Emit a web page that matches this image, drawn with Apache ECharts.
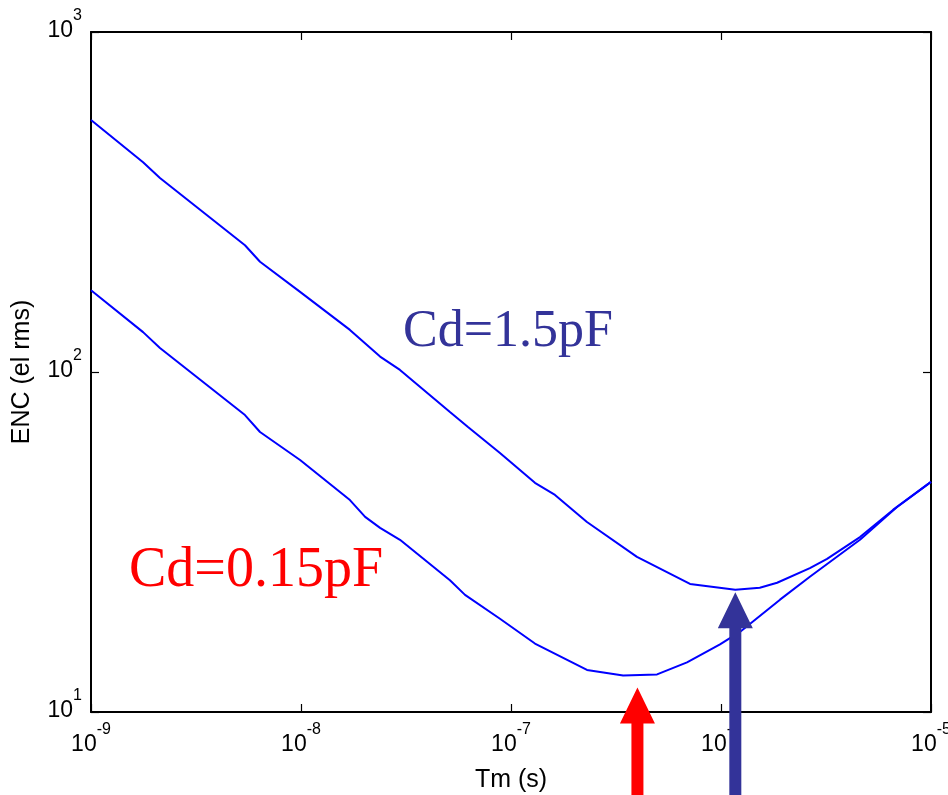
<!DOCTYPE html>
<html>
<head>
<meta charset="utf-8">
<script src="https://cdn.jsdelivr.net/npm/echarts@6/dist/echarts.min.js"></script>
<style>
  html, body { margin: 0; padding: 0; background: #fff; overflow: hidden; }
  #chart { width: 948px; height: 795px; }
</style>
</head>
<body>
<div id="chart"></div>
<script>
// Cd = 1.5pF curve
const tmUpper = [1e-9, 1.77e-9, 2.13e-9, 5.41e-9, 6.38e-9, 9.9e-9, 1.71e-8, 2.38e-8, 2.96e-8, 5.12e-8, 6.24e-8, 8.86e-8,
  1.30e-7, 1.62e-7, 2.30e-7, 3.98e-7, 7.12e-7, 1.17e-6, 1.53e-6, 1.85e-6, 2.65e-6, 3.20e-6, 4.59e-6, 6.59e-6, 1e-5];
const encUpper = [551, 414, 372, 236, 211, 172, 133, 111, 101.4, 76.3, 68.9, 57.8,
  47.2, 43.5, 36.2, 28.6, 23.8, 22.9, 23.2, 24.0, 26.5, 28.2, 32.7, 39.3, 47.5];
// Cd = 0.15pF curve
const tmLower = [1e-9, 1.77e-9, 2.13e-9, 5.41e-9, 6.38e-9, 9.9e-9, 1.71e-8, 2.02e-8, 2.38e-8, 2.96e-8, 5.12e-8, 6.04e-8,
  8.86e-8, 1.30e-7, 2.30e-7, 3.42e-7, 4.96e-7, 6.89e-7, 9.89e-7, 1.23e-6, 1.91e-6, 2.65e-6, 4.59e-6, 6.89e-6, 1e-5];
const encLower = [174, 131, 117.7, 74.7, 66.6, 55.1, 42.0, 37.5, 34.8, 32.1, 24.4, 22.1,
  18.8, 15.9, 13.3, 12.8, 12.9, 14.0, 15.8, 17.2, 21.4, 25.0, 32.1, 40.1, 47.5];
// arrows pointing at the minima: [Tm, tip ENC]
const arrowRed = [4.0e-7, 11.8];
const arrowBlue = [1.17e-6, 22.5];

const navy = '#333399';
const labelRich = {
    b: { fontFamily: 'Liberation Sans', fontSize: 23, color: '#000', padding: [11, 0, 0, 0], verticalAlign: 'bottom' },
    s: { fontFamily: 'Liberation Sans', fontSize: 16, color: '#000', verticalAlign: 'top' }
};
function powLabel(v) {
    const e = Math.round(Math.log10(v));
    return '{b|10}{s|' + e + '}';
}

const chart = echarts.init(document.getElementById('chart'));
const zip = (xs, ys) => xs.map((x, i) => [x, ys[i]]);

const axisLine = { show: true, lineStyle: { color: '#000', width: 2 } };
const axisTick = { show: true, inside: true, length: 8, lineStyle: { color: '#000', width: 1.2 } };

chart.setOption({
    animation: false,
    backgroundColor: '#fff',
    grid: { left: 91, right: 17, top: 32, bottom: 83, outerBoundsMode: 'none', containLabel: false },
    xAxis: [
        {
            type: 'log', logBase: 10, min: 1e-9, max: 1e-5, splitNumber: 4,
            position: 'bottom',
            name: 'Tm (s)', nameLocation: 'middle', nameGap: 56,
            nameTextStyle: { fontFamily: 'Liberation Sans', fontSize: 25, color: '#000' },
            axisLine, axisTick,
            splitLine: { show: false }, minorTick: { show: false },
            axisLabel: { formatter: powLabel, rich: labelRich, margin: 10 }
        },
        {
            type: 'log', logBase: 10, min: 1e-9, max: 1e-5, splitNumber: 4,
            position: 'top',
            axisLine, axisTick,
            splitLine: { show: false }, axisLabel: { show: false }
        }
    ],
    yAxis: [
        {
            type: 'log', logBase: 10, min: 10, max: 1000, splitNumber: 2,
            position: 'left',
            name: 'ENC (el rms)', nameLocation: 'middle', nameGap: 56, nameRotate: 90,
            nameTextStyle: { fontFamily: 'Liberation Sans', fontSize: 25, color: '#000' },
            axisLine, axisTick,
            splitLine: { show: false }, minorTick: { show: false },
            axisLabel: { formatter: powLabel, rich: labelRich, margin: 9, padding: [0, 0, 14, 0] }
        },
        {
            type: 'log', logBase: 10, min: 10, max: 1000, splitNumber: 2,
            position: 'right',
            axisLine, axisTick,
            splitLine: { show: false }, axisLabel: { show: false }
        }
    ],
    series: [
        {
            name: 'Cd=1.5pF', type: 'line', data: zip(tmUpper, encUpper),
            showSymbol: false, lineStyle: { color: '#0000ff', width: 2 }
        },
        {
            name: 'Cd=0.15pF', type: 'line', data: zip(tmLower, encLower),
            showSymbol: false, lineStyle: { color: '#0000ff', width: 2 }
        }
    ]
});

function arrowShape(pt, color) {
    const p = chart.convertToPixel({ xAxisIndex: 0, yAxisIndex: 0 }, pt);
    const cx = p[0], ty = p[1], H = 800;
    const hw = 17.5, hl = 36, sw = 6;
    return {
        type: 'polygon', z: 100,
        shape: { points: [[cx, ty], [cx + hw, ty + hl], [cx + sw, ty + hl], [cx + sw, H],
            [cx - sw, H], [cx - sw, ty + hl], [cx - hw, ty + hl]] },
        style: { fill: color }
    };
}

chart.setOption({
    graphic: [
        arrowShape(arrowRed, '#ff0000'),
        arrowShape(arrowBlue, navy),
        {
            type: 'text', left: 403, top: 306, z: 50,
            style: { text: 'Cd=1.5pF', fill: navy, font: '52px "Liberation Serif"' }
        },
        {
            type: 'text', left: 129, top: 543, z: 50,
            style: { text: 'Cd=0.15pF', fill: '#ff0000', font: '56px "Liberation Serif"' }
        }
    ]
});
</script>
</body>
</html>
